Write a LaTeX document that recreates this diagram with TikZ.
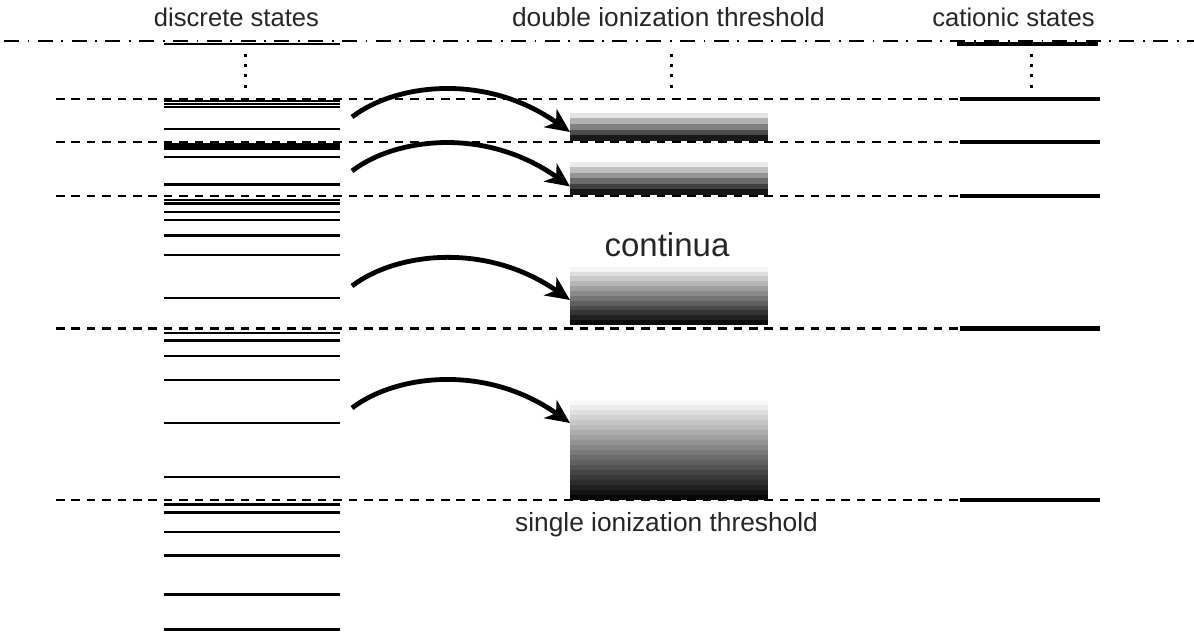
\documentclass[tikz,border=0pt]{standalone}
\usepackage{fontspec}
\setmainfont{Liberation Sans}
\usetikzlibrary{arrows.meta}
\tikzset{
  lbl/.style={anchor=base, text=black!85, font=\fontsize{25.6}{30}\selectfont, inner sep=0pt},
  biglbl/.style={anchor=base, text=black!85, font=\fontsize{33}{38}\selectfont, inner sep=0pt},
  limitline/.style={line width=2.4pt, dash pattern=on 8.5pt off 6.9pt},
  ddline/.style={line width=2.4pt, dash pattern=on 15pt off 8.5pt on 1.8pt off 8.5pt},
  discrete/.style={line width=2.4pt},
  cation/.style={line width=4.6pt},
  excite/.style={line width=4.8pt, -{Stealth[length=24pt,width=22pt,inset=7pt]}},
}
\begin{document}
\begin{tikzpicture}[x=1pt,y=-1pt]
\useasboundingbox (0,0) rectangle (1194,632);

% labels
\node[lbl] (tdisc) at (236.5,26.5) {discrete states};
\node[lbl, font=\fontsize{26.3}{30}\selectfont] (tdouble) at (668.5,26.3) {double ionization threshold};
\node[lbl] (tcat) at (1013.5,26.5) {cationic states};
\node[biglbl] (tcont) at (667,256) {continua};
\node[lbl, font=\fontsize{26.3}{30}\selectfont] (tsingle) at (666.5,531.5) {single ionization threshold};

% double ionization threshold
\draw[ddline] (4,41) -- (1194,41);

% ionization limits (dashed)
\foreach \y in {99,142,196,328.5,500}{
  \draw[limitline] (56,\y) -- (960,\y);
  \draw[cation] (960,\y) -- (1100,\y);
}
\draw[cation] (957,44) -- (1098,44);

% discrete states
\foreach \y in {44,
  101,104,107,129,
  144.3,146.7,149,157,184.3,
  200,203.5,212,220,235.3,255,298,
  333,340.5,356,380,423,477,
  504.5,512.5,532,555.5,594.5,629.5}{
  \draw[discrete] (163.5,\y) -- (340,\y);
}

% vertical dots
\foreach \x in {245,671.5,1031}{
  \foreach \y in {55.5,65.5,75.5,86}{
    \fill (\x-1.5,\y-1.5) rectangle (\x+1.5,\y+1.5);
  }
}

% continua (stepped gradients)
\foreach \top/\bot/\n/\nm in {112.7/141/5/c1, 161.7/195/6/c2, 266.7/325/12/c3, 400/499.5/20/c4}{
  \pgfmathsetmacro{\h}{(\bot-\top)/\n}
  \foreach \i in {0,...,\numexpr\n-1\relax}{
    \pgfmathsetmacro{\lev}{100*(\i+0.5)/\n}
    \pgfmathsetmacro{\yy}{\top+\i*\h}
    \fill[black!\lev] (570,\yy) rectangle (768,\yy+\h+0.3);
  }
  \coordinate (\nm) at (570,\bot);
}

% excitation arrows
\coordinate (s1) at (352,117);  \coordinate (t1) at (570,132);
\coordinate (s2) at (352,171);  \coordinate (t2) at (570,186.5);
\coordinate (s3) at (352,286);  \coordinate (t3) at (570,300);
\coordinate (s4) at (352,408);  \coordinate (t4) at (570,423);
\draw[excite] (s1) .. controls (395,84) and (485,72) .. (t1);
\draw[excite] (s2) .. controls (395,138) and (485,126) .. (t2);
\draw[excite] (s3) .. controls (395,253) and (485,241) .. (t3);
\draw[excite] (s4) .. controls (395,375) and (485,363) .. (t4);
\end{tikzpicture}
\end{document}
